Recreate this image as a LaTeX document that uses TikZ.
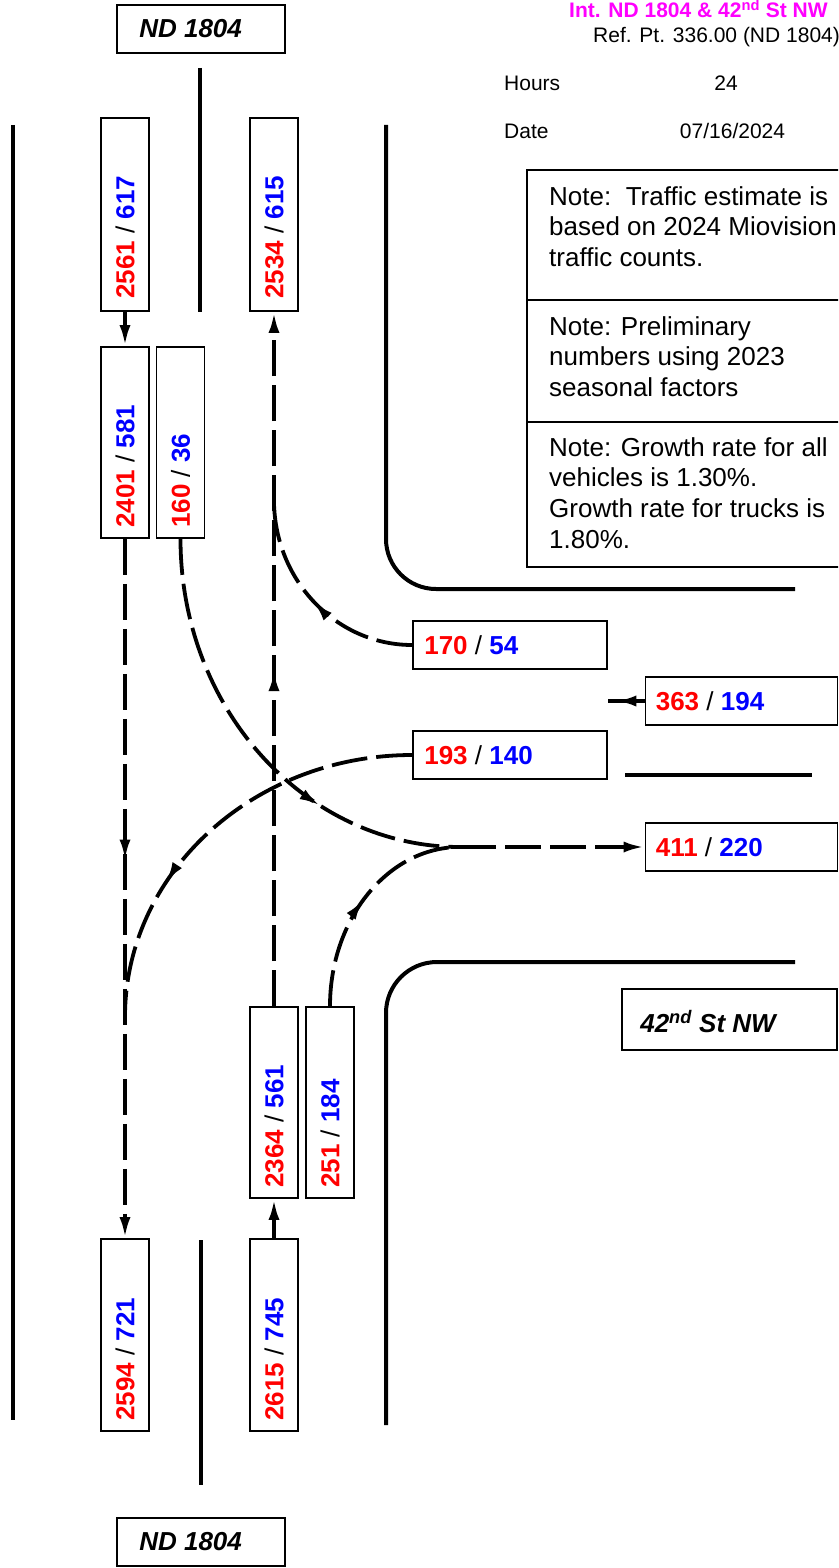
\documentclass[tikz,border=0pt]{standalone}
\usepackage{fontspec}
\setmainfont{Liberation Sans}
\usetikzlibrary{arrows.meta,decorations.markings}
\definecolor{numred}{RGB}{255,0,0}
\definecolor{numblue}{RGB}{0,0,255}
\definecolor{hdrmag}{RGB}{255,0,255}
\tikzset{
  road/.style={line width=4pt},
  boxs/.style={draw, line width=1.8pt, inner sep=0pt},
  vbox/.style={boxs, minimum width=48pt, minimum height=192pt},
  hbox/.style={boxs, minimum width=192pt, minimum height=48pt},
  num/.style={font=\fontsize{26}{30}\selectfont\bfseries, inner sep=0pt},
  vnum/.style={num, rotate=90, anchor=west},
  hnum/.style={num, anchor=west},
  lbl/.style={font=\fontsize{26}{30}\selectfont\bfseries\itshape, inner sep=0pt, anchor=west},
  hdr/.style={font=\fontsize{21}{25}\selectfont, inner sep=0pt},
  note/.style={font=\fontsize{26}{30}\selectfont, inner sep=0pt, anchor=base west},
  solidflow/.style={line width=3.8pt},
  flow/.style={line width=3.8pt, dash pattern=on 36pt off 9pt},
  tip/.style={-{Latex[length=21pt,width=11pt]}},
  midarrow/.style={postaction={decorate}, decoration={markings, mark=at position #1 with {\arrow{Latex[length=21pt,width=11pt]}}}},
}
\newcommand{\vol}[2]{\textcolor{numred}{#1} {\mdseries/} \textcolor{numblue}{#2}}
\begin{document}
\begin{tikzpicture}[x=1pt,y=-1pt]
\useasboundingbox (0,0) rectangle (838,1568);
\clip (0,0) rectangle (838,1568);

% header
\node[hdr, anchor=base west, text=hdrmag, font=\fontsize{21}{25}\selectfont\bfseries] (title) at (569,18) {Int. ND 1804 \& 42\textsuperscript{nd} St NW};
\node[hdr, anchor=base west] (refpt) at (593,43) {Ref. Pt. 336.00 (ND 1804)};
\node[hdr, anchor=base west] (hours) at (504,91) {Hours};
\node[hdr, anchor=base] (hoursv) at (726,91) {24};
\node[hdr, anchor=base west] (date) at (504,139) {Date};
\node[hdr, anchor=base] (datev) at (732.5,139) {07/16/2024};

% roads
\draw[road] (13,125) -- (13,1420);
\draw[road] (200,68) -- (200,312);
\draw[road] (201,1240) -- (201,1485);
\draw[road, rounded corners=50pt] (386,125) -- (386,589) -- (795,589);
\draw[road, rounded corners=51pt] (795,962) -- (386,962) -- (386,1425);
\draw[road] (625,775) -- (812,775);

% notes
\draw[line width=1.8pt] (527,170) rectangle (860,567);
\draw[line width=1.8pt] (527,300) -- (860,300);
\draw[line width=1.8pt] (527,422) -- (860,422);
\foreach \t [count=\i] in {{Note:\ \ Traffic estimate is},{based on 2024 Miovision},{traffic counts.}}
  \node[note] (na\i) at (549,{205+30.8*(\i-1)}) {\t};
\foreach \t [count=\i] in {{Note: Preliminary},{numbers using 2023},{seasonal factors}}
  \node[note] (nb\i) at (549,{335.5+30.4*(\i-1)}) {\t};
\foreach \t [count=\i] in {{Note: Growth rate for all},{vehicles is 1.30\%.},{Growth rate for trucks is},{1.80\%.}}
  \node[note] (nc\i) at (549,{456+30.7*(\i-1)}) {\t};

% labels
\node[hbox, minimum width=168pt] (ndtop) at (201,29) {};
\node[lbl] (ndtopt) at ([xshift=23pt]ndtop.west) {ND 1804};
\node[hbox, minimum width=168pt] (ndbot) at (201,1542) {};
\node[lbl] (ndbott) at ([xshift=23pt]ndbot.west) {ND 1804};
\node[boxs, minimum width=215pt, minimum height=61pt] (st42) at (729.5,1019.5) {};
\node[lbl] (st42t) at ([xshift=19pt,yshift=-2pt]st42.west) {42\textsuperscript{nd} St NW};

% vertical volume boxes
\node[vbox, minimum height=193pt] (b2561) at (125,214.5) {};
\node[vbox, minimum height=193pt] (b2534) at (274,214.5) {};
\node[vbox, minimum height=191pt] (b2401) at (125,442.5) {};
\node[vbox, minimum height=191pt] (b160) at (180.5,442.5) {};
\node[vbox, minimum height=191pt] (b2364) at (274,1102.5) {};
\node[vbox, minimum height=191pt] (b251) at (330,1102.5) {};
\node[vbox] (b2594) at (125,1335) {};
\node[vbox] (b2615) at (274,1335) {};
\node[vnum] (t2561) at ([yshift=13pt]b2561.south) {\vol{2561}{617}};
\node[vnum] (t2534) at ([yshift=13pt]b2534.south) {\vol{2534}{615}};
\node[vnum] (t2401) at ([yshift=11pt]b2401.south) {\vol{2401}{581}};
\node[vnum] (t160) at ([yshift=11pt]b160.south) {\vol{160}{36}};
\node[vnum] (t2364) at ([yshift=11pt]b2364.south) {\vol{2364}{561}};
\node[vnum] (t251) at ([yshift=11pt]b251.south) {\vol{251}{184}};
\node[vnum] (t2594) at ([yshift=11pt]b2594.south) {\vol{2594}{721}};
\node[vnum] (t2615) at ([yshift=11pt]b2615.south) {\vol{2615}{745}};

% horizontal volume boxes
\node[hbox, minimum width=194pt] (b170) at (510,645) {};
\node[hbox, minimum width=194pt] (b193) at (510,755) {};
\node[hbox] (b363) at (741.5,701) {};
\node[hbox] (b411) at (741.5,847) {};
\node[hnum] (t170) at ([xshift=12pt]b170.west) {\vol{170}{54}};
\node[hnum] (t193) at ([xshift=12pt]b193.west) {\vol{193}{140}};
\node[hnum] (t363) at ([xshift=11pt]b363.west) {\vol{363}{194}};
\node[hnum] (t411) at ([xshift=11pt]b411.west) {\vol{411}{220}};

% flows
\coordinate (m) at (460,847);
\coordinate (j170) at (274,500);
\coordinate (j193) at (125,1017);
\coordinate (w363) at (608,701);
\draw[solidflow, tip] (b2561.south) -- (b2401.north);
\draw[solidflow, tip] (b2615.north) -- (b2364.south);
\draw[flow, tip, midarrow=0.46] (b2401.south) -- (b2594.north);
\draw[flow, tip, midarrow=0.484] (b2364.north) -- (b2534.south);
\draw[flow, midarrow=0.68] (b160.south) .. controls (180.5,708.7) and (305.6,847) .. (m);
\draw[flow, midarrow=0.5] (b251.north) .. controls (330,918.6) and (388.2,847) .. (m);
\draw[flow, tip] (m) -- (b411.west);
\draw[flow, midarrow=0.5] (b170.west) .. controls (336,645) and (274,580) .. (j170);
\draw[flow, midarrow=0.67] (b193.west) .. controls (254.5,755) and (125,872) .. (j193);
\draw[solidflow, midarrow=0.8] (b363.west) -- (w363);
\end{tikzpicture}
\end{document}
